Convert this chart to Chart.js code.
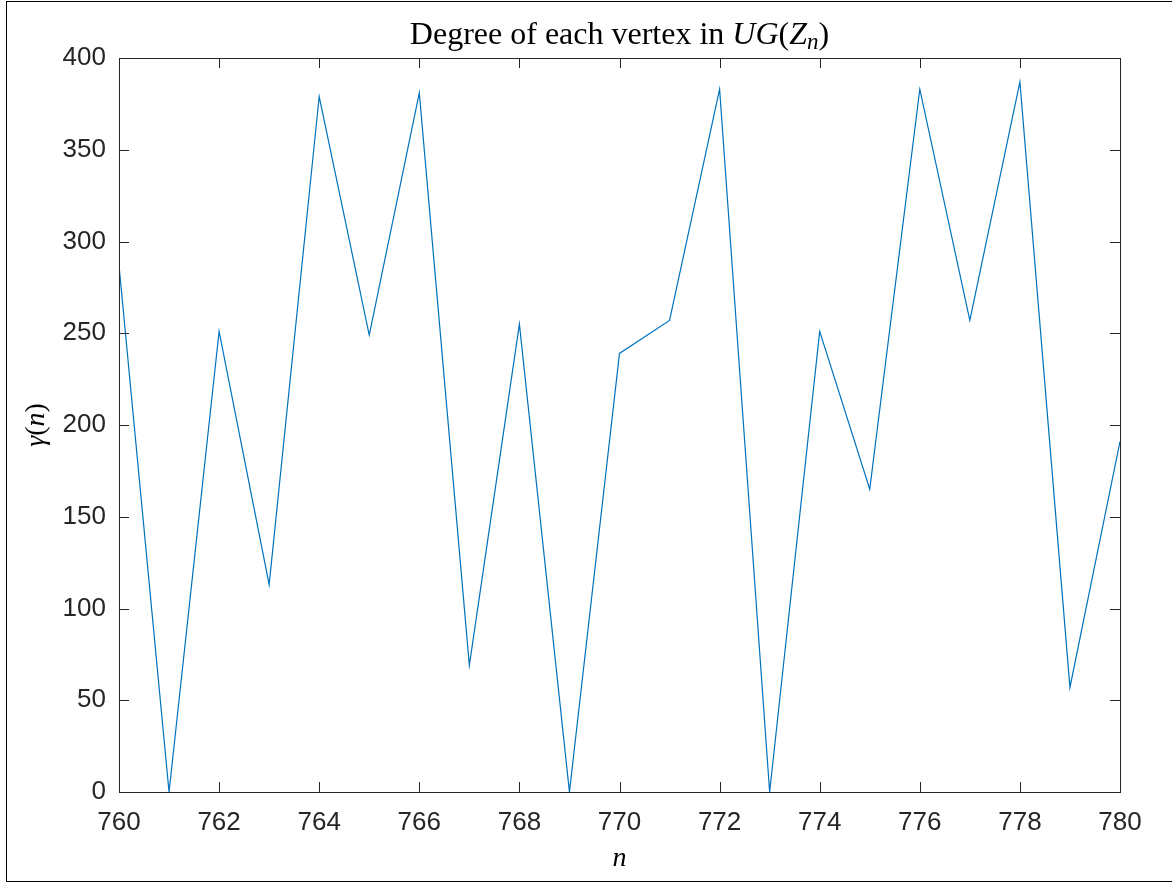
<!DOCTYPE html>
<html>
<head>
<meta charset="utf-8">
<script src="https://cdn.jsdelivr.net/npm/chart.js@4"></script>
<style>
  html, body { margin: 0; padding: 0; background: #fff; }
  #wrap { position: relative; width: 1172px; height: 883px; }
</style>
</head>
<body>
<div id="wrap"><canvas id="Chart" width="1172" height="883"></canvas></div>
<script>
// data
const nValues = [760, 761, 762, 763, 764, 765, 766, 767, 768, 769, 770,
                 771, 772, 773, 774, 775, 776, 777, 778, 779, 780]
const degrees = [287, 0, 251, 113, 379, 249, 381, 69, 255, 0, 239,
                 257, 383, 0, 251, 165, 383, 257, 387, 57, 191]
const xTicks = [760, 762, 764, 766, 768, 770, 772, 774, 776, 778, 780]
const yTicks = [0, 50, 100, 150, 200, 250, 300, 350, 400]

const axisColor = '#262626'
const serif = '"Liberation Serif", "DejaVu Serif", serif'

// MATLAB style box, inner ticks, title and axis labels
const matlabBox = {
    id: 'matlabBox',
    afterDraw(chart) {
        const ctx = chart.ctx
        const a = chart.chartArea
        const xs = chart.scales.x
        const ys = chart.scales.y
        ctx.save()
        // outer figure frame
        ctx.strokeStyle = '#000'
        ctx.lineWidth = 1
        ctx.strokeRect(6.5, 1.5, 1200, 880)

        ctx.strokeStyle = axisColor
        ctx.lineWidth = 1
        ctx.strokeRect(Math.round(a.left) + 0.5, Math.round(a.top) + 0.5,
            Math.round(a.right - a.left), Math.round(a.bottom - a.top))
        const tl = 10
        ctx.beginPath()
        xTicks.forEach(v => {
            const px = Math.round(xs.getPixelForValue(v)) + 0.5
            ctx.moveTo(px, a.bottom); ctx.lineTo(px, a.bottom - tl)
            ctx.moveTo(px, a.top); ctx.lineTo(px, a.top + tl)
        })
        yTicks.forEach(v => {
            const py = Math.round(ys.getPixelForValue(v)) + 0.5
            ctx.moveTo(a.left, py); ctx.lineTo(a.left + tl, py)
            ctx.moveTo(a.right, py); ctx.lineTo(a.right - tl, py)
        })
        ctx.stroke()

        // title: Degree of each vertex in UG(Z_n)
        ctx.fillStyle = '#000'
        ctx.textBaseline = 'alphabetic'
        const cx = (a.left + a.right) / 2
        const base = 44
        const s = 32
        const parts = [
            { t: 'Degree of each vertex in ', f: s + 'px ' + serif, dy: 0 },
            { t: 'UG', f: 'italic ' + s + 'px ' + serif, dy: 0 },
            { t: '(', f: s + 'px ' + serif, dy: 0 },
            { t: 'Z', f: 'italic ' + s + 'px ' + serif, dy: 0 },
            { t: 'n', f: 'italic ' + Math.round(s * 0.72) + 'px ' + serif, dy: 5 },
            { t: ')', f: s + 'px ' + serif, dy: 0 }
        ]
        let total = 0
        parts.forEach(p => { ctx.font = p.f; p.w = ctx.measureText(p.t).width; total += p.w })
        let x = cx - total / 2
        ctx.textAlign = 'left'
        parts.forEach(p => { ctx.font = p.f; ctx.fillText(p.t, x, base + p.dy); x += p.w })

        // x label
        ctx.font = 'italic 28px ' + serif
        ctx.textAlign = 'center'
        ctx.fillText('n', cx, 866)

        // y label: γ(n) rotated
        ctx.translate(44, (a.top + a.bottom) / 2)
        ctx.rotate(-Math.PI / 2)
        const yparts = [
            { t: 'γ', f: 'italic 28px ' + serif },
            { t: '(', f: '28px ' + serif },
            { t: 'n', f: 'italic 28px ' + serif },
            { t: ')', f: '28px ' + serif }
        ]
        total = 0
        yparts.forEach(p => { ctx.font = p.f; p.w = ctx.measureText(p.t).width; total += p.w })
        x = -total / 2
        ctx.textAlign = 'left'
        yparts.forEach(p => { ctx.font = p.f; ctx.fillText(p.t, x, 0); x += p.w })
        ctx.restore()
    }
}

const ctx = document.getElementById('Chart').getContext('2d')
const myChart = new Chart(ctx, {
    type: 'line',
    data: {
        datasets: [{
            label: 'degree',
            data: nValues.map((n, i) => ({ x: n, y: degrees[i] })),
            borderColor: '#0072BD',
            borderWidth: 1.2,
            pointRadius: 0,
            tension: 0,
            fill: false
        }]
    },
    options: {
        responsive: false,
        animation: false,
        layout: { padding: { left: 0, top: 58, right: 52, bottom: 0 } },
        plugins: { legend: { display: false }, tooltip: { enabled: false }, title: { display: false } },
        scales: {
            x: {
                type: 'linear',
                min: 760, max: 780,
                afterBuildTicks: (s) => { s.ticks = xTicks.map(v => ({ value: v })) },
                afterFit: (s) => { s.height = 91 },
                grid: { display: false, drawTicks: false },
                border: { display: false },
                ticks: { color: axisColor, font: { family: '"Liberation Sans", Arial, sans-serif', size: 26 }, padding: 15, maxRotation: 0, autoSkip: false }
            },
            y: {
                type: 'linear',
                min: 0, max: 400,
                afterBuildTicks: (s) => { s.ticks = yTicks.map(v => ({ value: v })) },
                afterFit: (s) => { s.width = 119 },
                grid: { display: false, drawTicks: false },
                border: { display: false },
                ticks: { color: axisColor, font: { family: '"Liberation Sans", Arial, sans-serif', size: 26 }, padding: 13, autoSkip: false }
            }
        }
    },
    plugins: [matlabBox]
})
</script>
</body>
</html>
